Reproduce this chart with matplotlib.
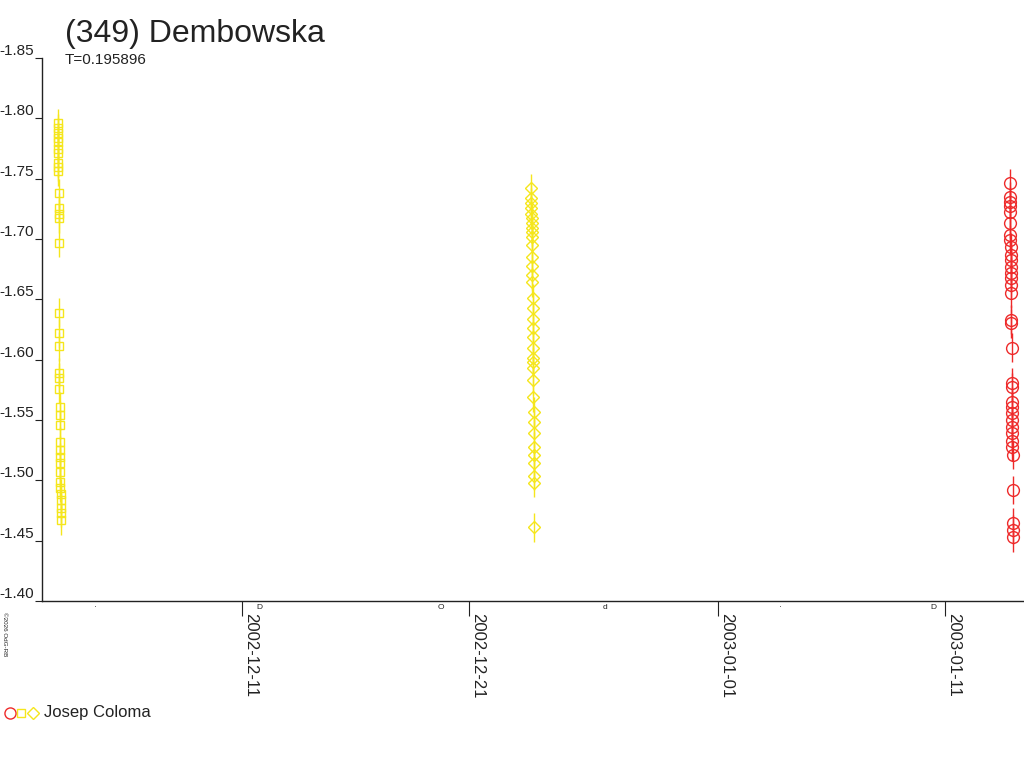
import matplotlib
matplotlib.use("Agg")
import matplotlib.pyplot as plt
from matplotlib.lines import Line2D
from matplotlib.transforms import blended_transform_factory, ScaledTranslation
import datetime as dt

plt.rcParams['font.family'] = ['Liberation Sans', 'DejaVu Sans']

# session 1 (squares) - 2002-12-02/03
s1_start = dt.datetime(2002, 12, 2, 20, 30)
s1_hours = [0.0, 0.1, 0.2, 0.3, 0.4, 0.5, 0.6, 0.7, 0.8, 0.9, 1.0, 1.1, 1.2, 1.3, 1.4,
            1.5, 1.6, 1.7, 1.8, 1.9, 2.0, 2.1, 2.2, 2.3, 2.4, 2.5, 2.6, 2.7, 2.8, 2.9,
            3.0, 3.1, 3.2, 3.3, 3.4, 3.5]
s1_mag = [-1.796, -1.792, -1.788, -1.784, -1.780, -1.775, -1.771, -1.763, -1.760, -1.756,
          -1.738, -1.726, -1.721, -1.717, -1.697, -1.639, -1.622, -1.611, -1.589, -1.585,
          -1.576, -1.561, -1.554, -1.546, -1.532, -1.525, -1.519, -1.514, -1.507, -1.499,
          -1.494, -1.489, -1.484, -1.477, -1.473, -1.467]
s1_err = 0.012

# session 2 (diamonds) - 2002-12-23/24
s2_start = dt.datetime(2002, 12, 23, 18, 0)
s2_hours = [0.0, 0.1, 0.2, 0.3, 0.4, 0.5, 0.6, 0.7, 0.8, 0.9, 1.0, 1.1, 1.2, 1.3, 1.4,
            1.5, 1.6, 1.7, 1.8, 1.9, 2.0, 2.1, 2.2, 2.3, 2.4, 2.5, 2.6, 2.7, 2.8, 2.9,
            3.0, 3.1, 3.2, 3.3, 3.4]
s2_mag = [-1.742, -1.734, -1.730, -1.726, -1.721, -1.717, -1.713, -1.709, -1.706, -1.702,
          -1.695, -1.685, -1.678, -1.670, -1.664, -1.651, -1.643, -1.634, -1.626, -1.619,
          -1.610, -1.601, -1.598, -1.593, -1.583, -1.569, -1.557, -1.548, -1.539, -1.528,
          -1.521, -1.514, -1.504, -1.498, -1.461]
s2_err = 0.012

# session 3 (circles) - 2003-01-13/14
s3_start = dt.datetime(2003, 1, 13, 21, 0)
s3_hours = [0.0, 0.1, 0.2, 0.3, 0.4, 0.5, 0.6, 0.7, 0.8, 0.9, 1.0, 1.1, 1.2, 1.3, 1.4,
            1.5, 1.6, 1.7, 1.8, 1.9, 2.0, 2.1, 2.2, 2.3, 2.4, 2.5, 2.6, 2.7, 2.8, 2.9,
            3.0, 3.1, 3.2, 3.3]
s3_mag = [-1.746, -1.735, -1.731, -1.727, -1.722, -1.713, -1.703, -1.699, -1.693, -1.687,
          -1.683, -1.677, -1.672, -1.668, -1.662, -1.655, -1.633, -1.630, -1.610, -1.581,
          -1.577, -1.565, -1.561, -1.556, -1.550, -1.544, -1.539, -1.533, -1.528, -1.521,
          -1.492, -1.465, -1.459, -1.453]
s3_err = 0.012

tick_dates = [dt.datetime(2002, 12, 11), dt.datetime(2002, 12, 21),
              dt.datetime(2003, 1, 1), dt.datetime(2003, 1, 11)]
tick_labels = ["2002-12-11", "2002-12-21", "2003-01-01", "2003-01-11"]
y_ticks = [-1.85, -1.80, -1.75, -1.70, -1.65, -1.60, -1.55, -1.50, -1.45, -1.40]

# moon phases along the axis
moon_dates = [dt.datetime(2002, 12, 4, 12), dt.datetime(2002, 12, 11, 18),
              dt.datetime(2002, 12, 19, 18), dt.datetime(2002, 12, 27, 0),
              dt.datetime(2003, 1, 3, 18), dt.datetime(2003, 1, 10, 12)]
moon_glyphs = ["\u00b7", "D", "O", "d", "\u00b7", "D"]

fig = plt.figure(figsize=(10.24, 7.68), dpi=100)
ax = fig.add_axes([42 / 1024, 1 - 601 / 768, 1 - 42 / 1024, (601 - 58) / 768])

yellow = '#f5e61c'
red = '#ee2a2a'

sessions = [(s1_start, s1_hours, s1_mag, s1_err, 's', yellow, 6),
            (s2_start, s2_hours, s2_mag, s2_err, 'D', yellow, 6),
            (s3_start, s3_hours, s3_mag, s3_err, 'o', red, 8.5)]
for start, hours, mags, err, mk, col, ms in sessions:
    times = [start + dt.timedelta(hours=h) for h in hours]
    ax.errorbar(times, mags, yerr=err, fmt=mk, ms=ms, mfc='none', mec=col,
                mew=1.0, ecolor=col, elinewidth=1.0, capsize=0)

ax.set_xlim(dt.datetime(2002, 12, 2, 4), dt.datetime(2003, 1, 14, 12))
ax.set_ylim(-1.40, -1.85)
ax.spines['top'].set_visible(False)
ax.spines['right'].set_visible(False)
for sp in ax.spines.values():
    sp.set_color('#222222')
    sp.set_linewidth(1.0)

ax.set_yticks(y_ticks)
ax.set_yticklabels([f"{v:.2f}" for v in y_ticks], fontsize=11, color='#222222')
for lbl in ax.get_yticklabels():
    lbl.set_va('bottom')
ax.tick_params(axis='y', direction='out', length=5, pad=1, color='#222222')

ax.set_xticks(tick_dates)
ax.set_xticklabels([])
ax.tick_params(axis='x', direction='out', length=11, color='#222222')
trans = blended_transform_factory(ax.transData, ax.transAxes)
for d, lab in zip(tick_dates, tick_labels):
    ax.text(d, 0, lab, transform=trans + ScaledTranslation(1 / 100, -12 / 100, fig.dpi_scale_trans),
            rotation=270, ha='left', va='top', fontsize=12, color='#222222')

for d, g in zip(moon_dates, moon_glyphs):
    ax.text(d, 0, g, transform=trans + ScaledTranslation(0, -3 / 100, fig.dpi_scale_trans),
            ha='center', va='top', fontsize=6, color='#222222')

fig.text(65 / 1024, 1 - 42 / 768, "(349) Dembowska", fontsize=23, color='#222222')
fig.text(65 / 1024, 1 - 64 / 768, "T=0.195896", fontsize=11, color='#222222')
fig.text(2 / 1024, 1 - 612 / 768, "\u00a92026 OdG-RB", fontsize=4.5, rotation=270,
         ha='left', va='top', color='#222222')

# legend
leg_y = 1 - 713 / 768
for xp, mk, col, ms in [(10, 'o', red, 8), (21, 's', yellow, 6), (33, 'D', yellow, 6)]:
    fig.add_artist(Line2D([xp / 1024], [leg_y], marker=mk, ms=ms, mfc='none', mec=col,
                          mew=1.0, transform=fig.transFigure))
fig.text(44 / 1024, leg_y, "Josep Coloma", fontsize=12, va='center', color='#222222')

fig.savefig("out.png", dpi=100)
